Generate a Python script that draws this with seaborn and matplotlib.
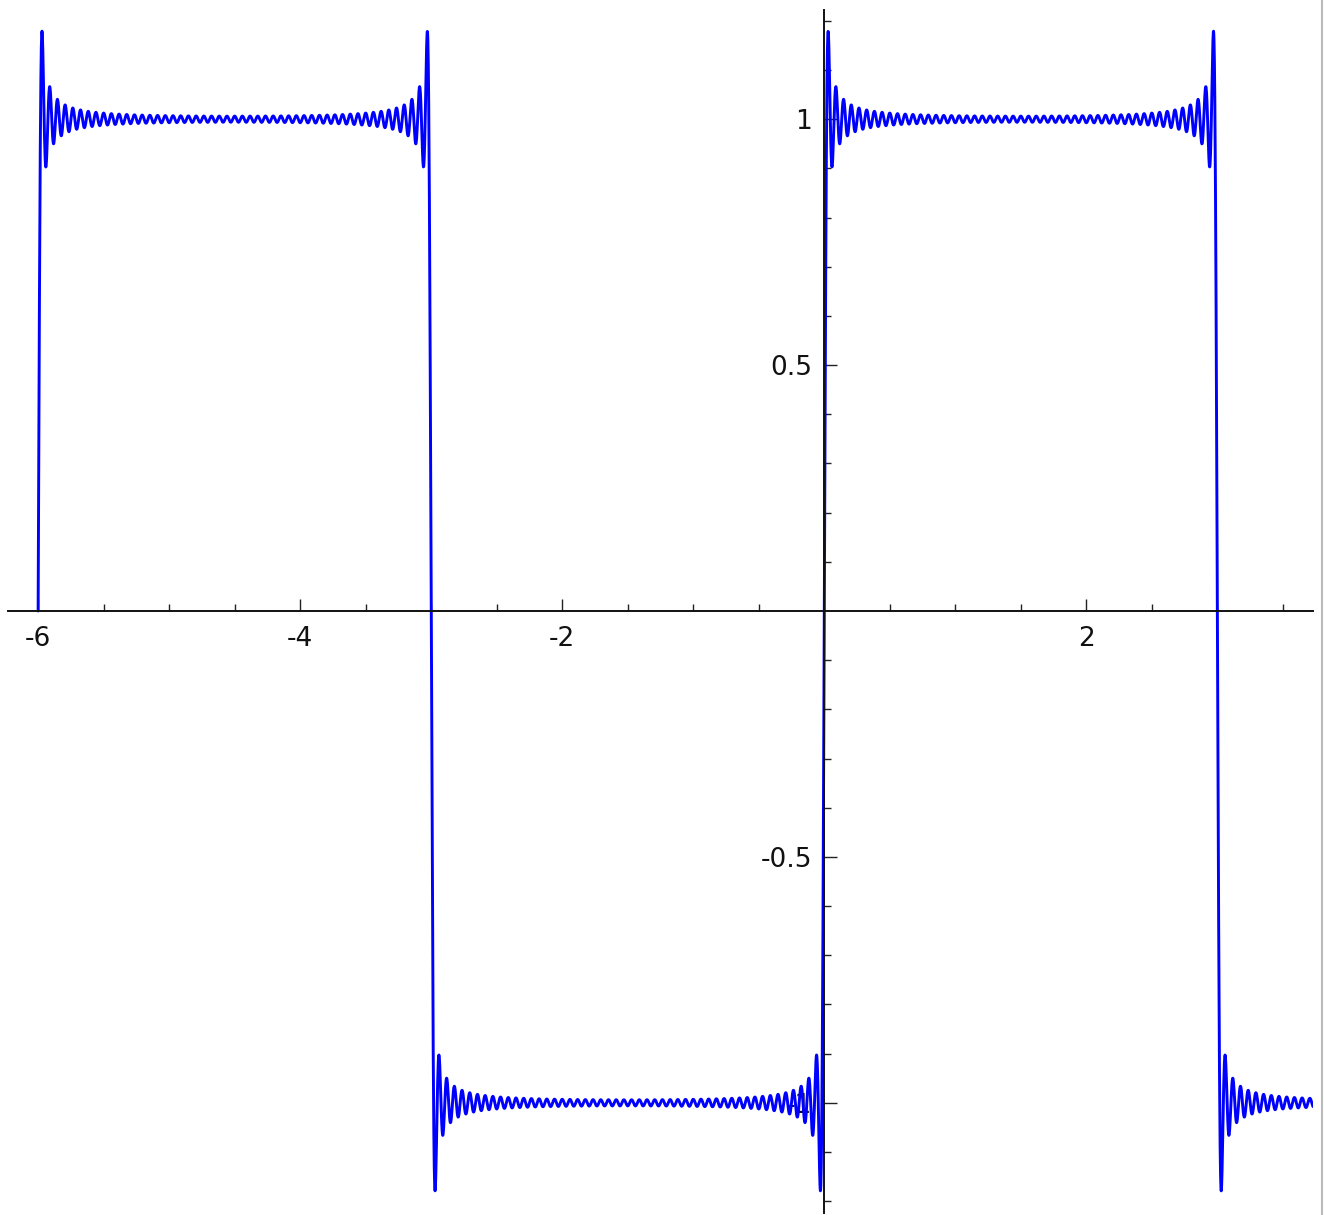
import matplotlib

matplotlib.use("Agg")
import matplotlib.pyplot as plt
import numpy as np
import pandas as pd
import seaborn as sns
from matplotlib.lines import Line2D
from matplotlib.ticker import FixedLocator

# square wave partial Fourier sum:
# jumps at -6, -3, 0, 3 -> period 6; ~50 ripples per half period
PERIOD = 6.0
N_TERMS = 51
X_START, X_END = -6.0, 3.73
X_LIMITS = (-6.23, 3.73)
Y_LIMITS = (-1.224, 1.222)

X_MAJOR = [-6, -4, -2, 2]
X_MAJOR_LABELS = ["-6", "-4", "-2", "2"]
X_MINOR = [-5.5, -5, -4.5, -3.5, -3, -2.5, -1.5, -1, -0.5, 0.5, 1, 1.5, 2.5, 3, 3.5]
Y_MAJOR = [1, 0.5, -0.5, -1]
Y_MAJOR_LABELS = ["1", "0.5", "-0.5", "-1"]
Y_MINOR = [-1.2, -1.1, -0.9, -0.8, -0.7, -0.6, -0.4, -0.3, -0.2, -0.1,
           0.1, 0.2, 0.3, 0.4, 0.6, 0.7, 0.8, 0.9, 1.1, 1.2]


def square_wave_sum(x: np.ndarray) -> np.ndarray:
    k = np.arange(1, N_TERMS + 1)[:, None]
    n = 2 * k - 1
    return (4 / np.pi * np.sin(n * 2 * np.pi * x / PERIOD) / n).sum(axis=0)


xs = np.linspace(X_START, X_END, 6000)
frame = pd.DataFrame({"x": xs, "y": square_wave_sum(xs)})

sns.set_style("white")
plt.rcParams["font.family"] = ["DejaVu Sans"]
plt.rcParams["axes.unicode_minus"] = False

fig = plt.figure(figsize=(13.24, 12.15), dpi=100)
ax = fig.add_axes([8 / 1324, 2 / 1215, (1313 - 8) / 1324, (1213 - 10) / 1215])
sns.lineplot(data=frame, x="x", y="y", ax=ax, color="#0000ff", linewidth=2.1,
             sort=False, estimator=None)

ax.set_xlim(*X_LIMITS)
ax.set_ylim(*Y_LIMITS)
ax.set_xlabel("")
ax.set_ylabel("")

for side in ("top", "right"):
    ax.spines[side].set_visible(False)
ax.spines["left"].set_position(("data", 0))
ax.spines["bottom"].set_position(("data", 0))
for side in ("left", "bottom"):
    ax.spines[side].set_linewidth(1.4)
    ax.spines[side].set_color("#111111")

ax.xaxis.set_major_locator(FixedLocator(X_MAJOR))
ax.xaxis.set_minor_locator(FixedLocator(X_MINOR))
ax.set_xticklabels(X_MAJOR_LABELS)
ax.yaxis.set_major_locator(FixedLocator(Y_MAJOR))
ax.yaxis.set_minor_locator(FixedLocator(Y_MINOR))
ax.set_yticklabels(Y_MAJOR_LABELS)

ax.tick_params(axis="x", which="major", direction="in", length=9, width=1, pad=11,
               labelsize=19, labelcolor="#111111", color="#222222", bottom=True)
ax.tick_params(axis="x", which="minor", direction="in", length=5, width=1,
               color="#222222", bottom=True)
ax.tick_params(axis="y", which="major", direction="in", length=9, width=1, pad=9,
               labelsize=19, labelcolor="#111111", color="#222222", left=True)
ax.tick_params(axis="y", which="minor", direction="in", length=5, width=1,
               color="#222222", left=True)

# thin grey frame edge on the right of the image
fig.add_artist(Line2D([1321.5 / 1324, 1321.5 / 1324], [0, 1], transform=fig.transFigure,
                      color="#bbbbbb", linewidth=1.5))

fig.savefig("out.png", dpi=100)
plt.close(fig)
